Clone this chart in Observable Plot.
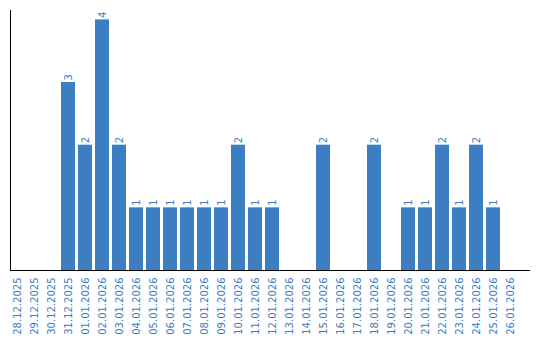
<!DOCTYPE html>
<html>
<head>
<meta charset="utf-8">
<script src="https://cdn.jsdelivr.net/npm/d3@7"></script>
<script src="https://cdn.jsdelivr.net/npm/@observablehq/plot@0.6"></script>
<style>
  html, body { margin: 0; padding: 0; background: #fff; }
</style>
</head>
<body>
<div id="chart"></div>
<script>
const dates = ["28.12.2025","29.12.2025","30.12.2025","31.12.2025","01.01.2026","02.01.2026","03.01.2026","04.01.2026","05.01.2026","06.01.2026","07.01.2026","08.01.2026","09.01.2026","10.01.2026","11.01.2026","12.01.2026","13.01.2026","14.01.2026","15.01.2026","16.01.2026","17.01.2026","18.01.2026","19.01.2026","20.01.2026","21.01.2026","22.01.2026","23.01.2026","24.01.2026","25.01.2026","26.01.2026"];
const counts = [0,0,0,3,2,4,2,1,1,1,1,1,1,2,1,1,0,0,2,0,0,2,0,1,1,2,1,2,1,0];

const data = dates.map((d, i) => ({date: d, count: counts[i]}));
const labeled = data.filter(d => d.count > 0);
const blue = "#3b7ec2";

const chart = Plot.plot({
  width: 540,
  height: 340,
  marginTop: 10,
  marginBottom: 70,
  marginLeft: 10,
  marginRight: 10,
  style: {fontFamily: "'DejaVu Sans', sans-serif", fontSize: "10px", background: "#fff"},
  x: {domain: dates, range: [10, 517], paddingInner: 3/17, paddingOuter: 0, align: 0},
  y: {domain: [0, 4.15], axis: null},
  marks: [
    Plot.barY(data, {x: "date", y: "count", fill: blue}),
    Plot.text(labeled, {x: "date", y: "count", text: d => String(d.count), rotate: -90, textAnchor: "start", dy: -2, fill: blue, fontSize: 10}),
    Plot.axisX({tickRotate: -90, tickSize: 0, tickPadding: 7, label: null, fill: blue, fontSize: 10}),
    Plot.ruleY([0], {stroke: "black"}),
    Plot.frame({anchor: "left", stroke: "black"})
  ]
});
document.getElementById("chart").appendChild(chart);
</script>
</body>
</html>
